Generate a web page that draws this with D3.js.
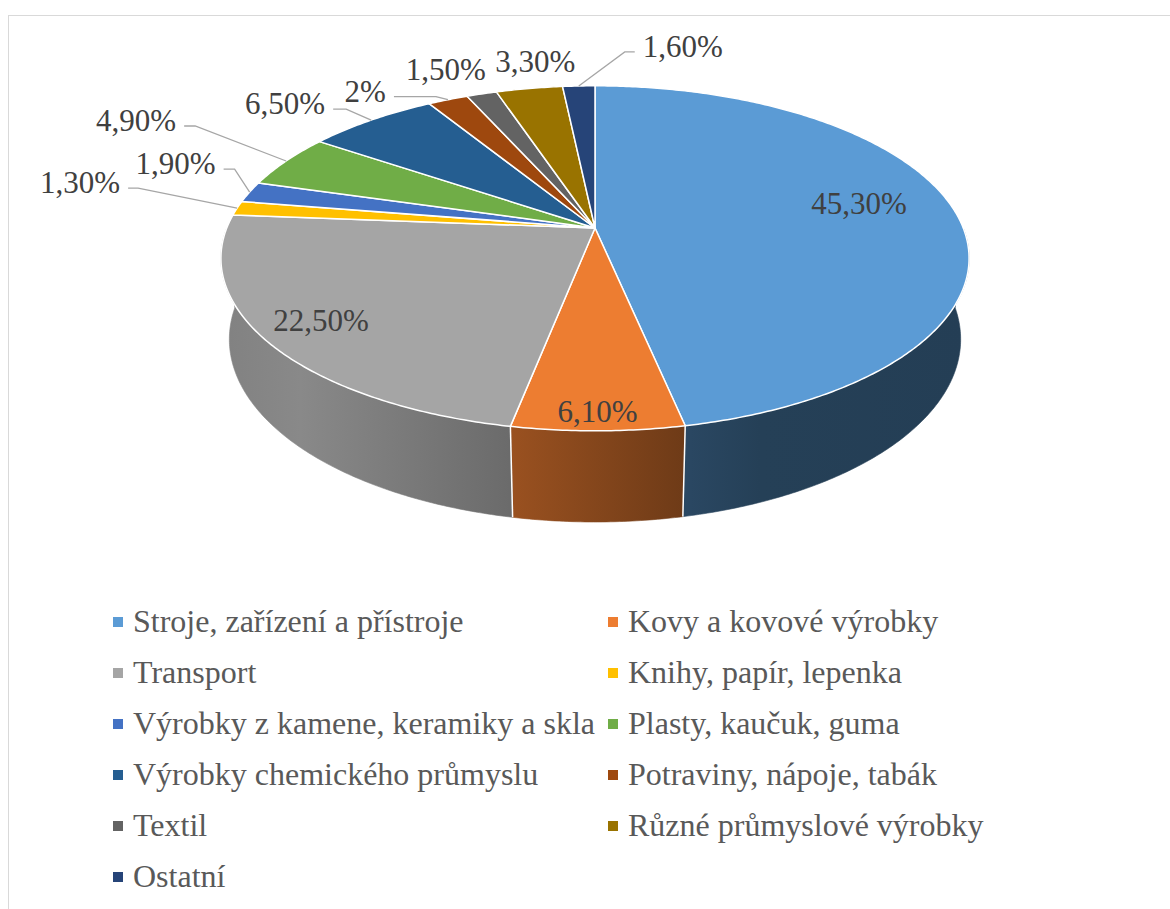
<!DOCTYPE html>
<html>
<head>
<meta charset="utf-8">
<script src="https://cdn.jsdelivr.net/npm/d3@7"></script>
<style>
  body { margin: 0; background: #fff; }
</style>
</head>
<body>
<div id="chart"></div>
<script>
// data
const categories = [
  "Stroje, zařízení a přístroje", "Kovy a kovové výrobky", "Transport",
  "Knihy, papír, lepenka", "Výrobky z kamene, keramiky a skla", "Plasty, kaučuk, guma",
  "Výrobky chemického průmyslu", "Potraviny, nápoje, tabák", "Textil",
  "Různé průmyslové výrobky", "Ostatní"
]
const values = [45.3, 6.1, 22.5, 1.3, 1.9, 4.9, 6.5, 2, 1.5, 3.3, 1.6]
const colors = ["#5B9BD5", "#ED7D31", "#A5A5A5", "#FFC000", "#4472C4", "#70AD47",
  "#255E91", "#9E480E", "#636363", "#997300", "#264478"]

// label placement (inside: radius + nudge, outside: knee offset + horizontal segment)
const labelLayout = [
  { r: 0.73, dy: -13 }, { r: 0.9, dy: 4 }, { r: 0.85, dy: -3 },
  { kx: -99, ky: -20, seg: -10 }, { kx: -15, ky: -23, seg: -11 }, { kx: -91, ky: -35, seg: -11 },
  { kx: -25, ky: -11, seg: -13 }, { kx: -12, ky: -3, seg: -42 }, { kx: -36, ky: -14, seg: 0 },
  { kx: 6, ky: -16, seg: 0 }, { kx: 46, ky: -34, seg: 10 }
]

const width = 1170, height = 909
const serif = "Liberation Serif"
const fmt = v => (v % 1 === 0 ? v : v.toFixed(2).replace(".", ",")) + "%"

// 3d projection of the pie disc
const cx = 595, cy = 228, f = 1867, dist = 5.07
const sinT = 0.454, cosT = 0.891, thick = 0.249
function project(theta, r, h) {
  const x = r * Math.sin(theta), z = -r * Math.cos(theta)
  const depth = dist - cosT * z - sinT * h
  return [cx + f * x / depth, cy + f * (z * sinT - h * cosT) / depth]
}

const svg = d3.select("#chart").append("svg")
  .attr("width", width).attr("height", height)

svg.append("rect")
  .attr("x", 8.5).attr("y", 15.5).attr("width", 1300).attr("height", 1000)
  .attr("fill", "none").attr("stroke", "#d9d9d9")

const arcs = d3.pie().sort(null).startAngle(0).endAngle(2 * Math.PI)(values)

// wall shading along x
const defs = svg.append("defs")
const shade = [[220, 0.78], [300, 0.83], [510, 0.65], [690, 0.46], [760, 0.41], [970, 0.40]]
colors.forEach((c, i) => {
  const g = defs.append("linearGradient").attr("id", "wall" + i)
    .attr("gradientUnits", "userSpaceOnUse")
    .attr("x1", 220).attr("x2", 970).attr("y1", 0).attr("y2", 0)
  const base = d3.rgb(c)
  shade.forEach(([x, k]) => {
    g.append("stop").attr("offset", (x - 220) / 750)
      .attr("stop-color", d3.rgb(base.r * k, base.g * k, base.b * k))
  })
})

function rim(a0, a1, r, h) {
  const n = Math.max(2, Math.ceil((a1 - a0) / 0.01))
  return d3.range(n + 1).map(k => project(a0 + (a1 - a0) * k / n, r, h))
}

// outer walls, front half only
const lo = Math.PI / 2, hi = 3 * Math.PI / 2
const walls = svg.append("g")
arcs.forEach((d, i) => {
  const a0 = Math.max(d.startAngle, lo), a1 = Math.min(d.endAngle, hi)
  if (a1 <= a0) return
  const pts = rim(a0, a1, 1, 0).concat(rim(a0, a1, 1, -thick).reverse())
  walls.append("path")
    .attr("d", d3.line()(pts) + "Z")
    .attr("fill", `url(#wall${i})`)
    .attr("stroke", `url(#wall${i})`).attr("stroke-width", 0.6)
})
// separators on the wall
arcs.forEach(d => {
  const a = d.startAngle
  if (a > lo + 0.2 && a < hi - 0.2) {
    const p0 = project(a, 1, 0), p1 = project(a, 1, -thick)
    walls.append("line")
      .attr("x1", p0[0]).attr("y1", p0[1]).attr("x2", p1[0]).attr("y2", p1[1])
      .attr("stroke", "#fff").attr("stroke-width", 1.5)
  }
})

// top faces
svg.append("g").selectAll("path").data(arcs).join("path")
  .attr("d", d => d3.line()([[cx, cy]].concat(rim(d.startAngle, d.endAngle, 1, 0))) + "Z")
  .attr("fill", (d, i) => colors[i])
  .attr("stroke", "#fff").attr("stroke-width", 1.5).attr("stroke-linejoin", "round")

// data labels
const labels = svg.append("g").attr("fill", "#404040")
function label(x, y, anchor, t) {
  labels.append("text").attr("x", x).attr("y", y)
    .attr("font-family", serif).attr("font-size", 31)
    .attr("text-anchor", anchor).text(t)
}
arcs.forEach((d, i) => {
  const mid = (d.startAngle + d.endAngle) / 2
  const L = labelLayout[i]
  if (L.r !== undefined) {
    const p = project(mid, L.r, 0)
    label(p[0], p[1] + 11 + L.dy, "middle", fmt(values[i]))
    return
  }
  const e = project(mid, 1, 0)
  const knee = [e[0] + L.kx, e[1] + L.ky]
  if (L.seg === 0) {
    label(knee[0], knee[1], "middle", fmt(values[i]))
    return
  }
  const end = [knee[0] + L.seg, knee[1]]
  labels.append("path")
    .attr("d", d3.line()([e, knee, end]))
    .attr("fill", "none").attr("stroke", "#a6a6a6").attr("stroke-width", 1.3)
  const dir = Math.sign(L.seg)
  label(end[0] + dir * 8, knee[1] + 5, dir < 0 ? "end" : "start", fmt(values[i]))
})

// legend
const legend = svg.append("g")
const colX = [113, 608], rowY = 622, rowH = 51
categories.forEach((c, i) => {
  const x = colX[i % 2], y = rowY + Math.floor(i / 2) * rowH
  legend.append("rect").attr("x", x).attr("y", y - 5).attr("width", 10).attr("height", 10)
    .attr("fill", colors[i])
  legend.append("text").attr("x", x + 20).attr("y", y + 10)
    .attr("font-family", serif).attr("font-size", 32).attr("fill", "#595959")
    .text(c)
})
</script>
</body>
</html>
